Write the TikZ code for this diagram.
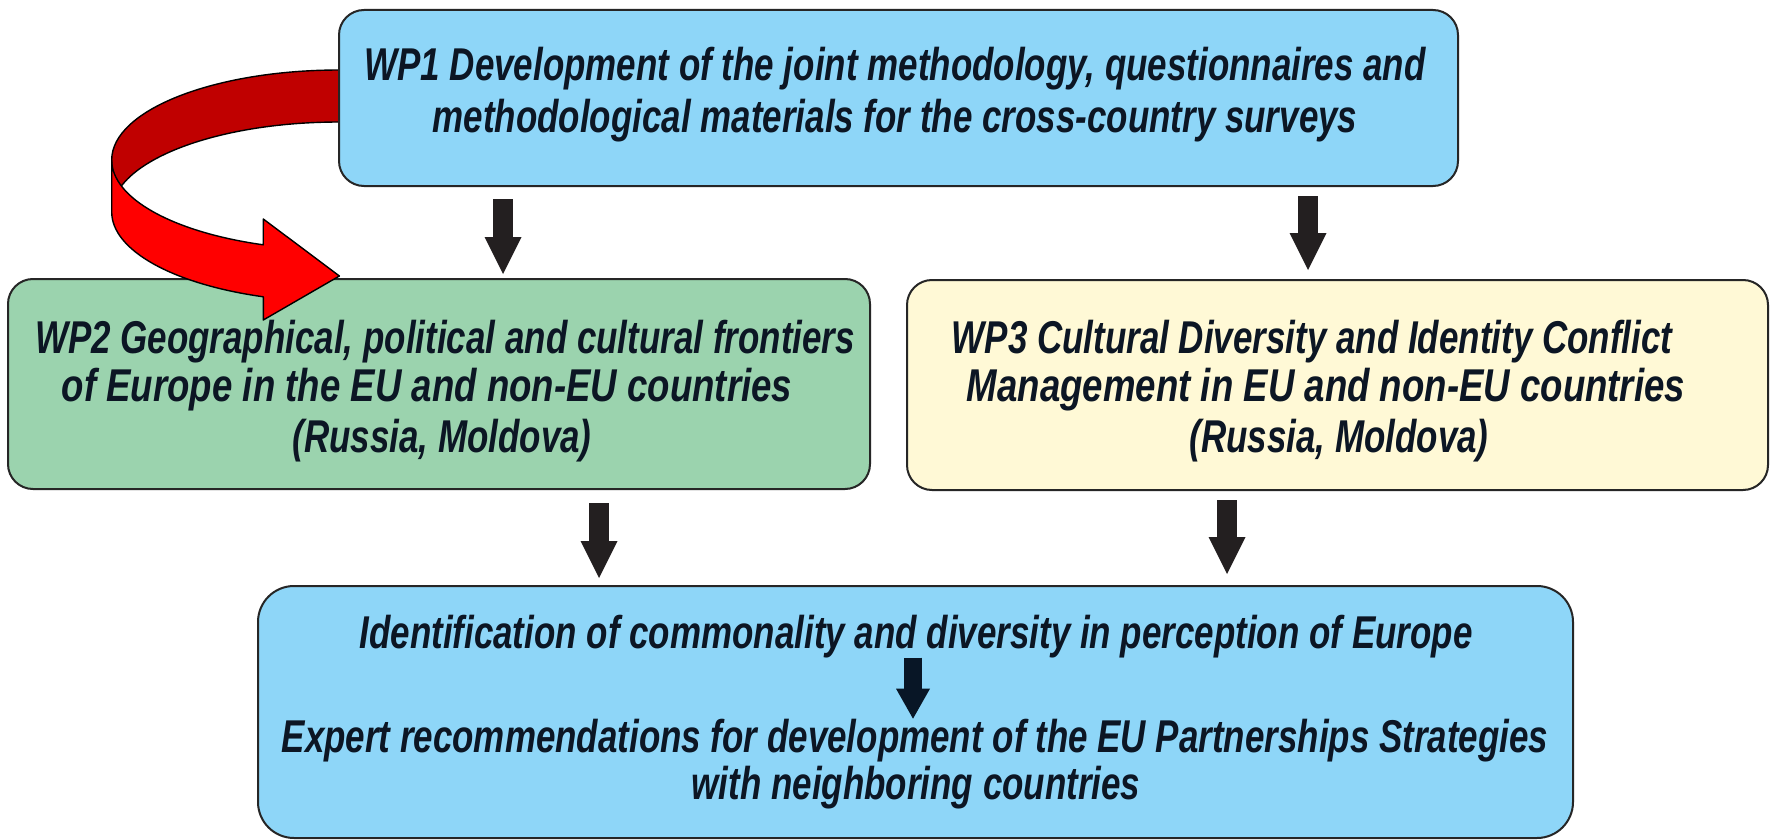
\documentclass[tikz,border=0pt]{standalone}
\usepackage{fontspec}
\setmainfont{Liberation Sans}[FakeStretch=0.76]
\newfontfamily\widerfont{Liberation Sans}[FakeStretch=0.796]
\usetikzlibrary{arrows.meta}
\definecolor{boxblue}{RGB}{142,214,248}
\definecolor{boxgreen}{RGB}{155,211,174}
\definecolor{boxyellow}{RGB}{255,249,214}
\definecolor{inkdark}{RGB}{12,22,36}
\definecolor{arrowdark}{RGB}{35,31,32}
\definecolor{arrownavy}{RGB}{8,22,38}
\definecolor{redback}{RGB}{192,0,0}
\definecolor{redfront}{RGB}{255,0,0}

\begin{document}
\begin{tikzpicture}[x=0.5pt,y=-0.5pt,
  box/.style={draw=black!85, line width=1pt, rounded corners=12.5pt,
    inner sep=0pt, outer sep=0pt},
  txt/.style={anchor=base, inner sep=0pt, outer sep=0pt, text=inkdark,
    font=\fontsize{23}{25}\selectfont\bfseries\itshape},
  widetxt/.style={txt, font=\widerfont\fontsize{23}{25}\selectfont\bfseries\itshape},
  blockarrow/.style={draw=arrowdark, line width=10pt,
    -{Triangle[width=18.5pt,length=18.5pt,line width=0pt]}},
  ribbon/.style={draw=black, line width=0.7pt, line join=round},
]
\useasboundingbox (0,0) rectangle (1772,840);
\fill[white] (0,0) rectangle (1772,840);

% lower boxes
\node[box, fill=boxgreen, minimum width=431pt, minimum height=105pt] (wp2) at (439,384) {};
\node[box, fill=boxyellow, minimum width=430.5pt, minimum height=105pt] (wp3) at (1337.5,385) {};
\node[box, fill=boxblue, rounded corners=18pt, minimum width=657.5pt, minimum height=126pt] (res) at (915.5,712) {};

\node[txt] (wp2a) at (445,353) {WP2 Geographical, political and cultural frontiers};
\node[widetxt] (wp2b) at (427,401) {of Europe in the EU and non-EU countries};
\node[txt] (wp2c) at (442,452) {(Russia, Moldova)};

\node[txt] (wp3a) at (1312,353) {WP3 Cultural Diversity and Identity Conflict};
\node[widetxt] (wp3b) at (1326,401) {Management in EU and non-EU countries};
\node[txt] (wp3c) at (1339,452) {(Russia, Moldova)};

\node[txt] (resa) at (916,648) {Identification of commonality and diversity in perception of Europe};
\node[txt] (resb) at (915,752) {Expert recommendations for development of the EU Partnerships Strategies};
\node[txt] (resc) at (916,799) {with neighboring countries};

% curved ribbon arrow from WP1 to WP2 (back face, then front face with head)
\filldraw[ribbon, fill=redback] (339.4,70)
  arc[start angle=270, end angle=180, x radius=227.7, y radius=90]
  -- (111.7,212)
  arc[start angle=180, end angle=270, x radius=227.7, y radius=90] -- cycle;
\filldraw[ribbon, fill=redfront] (111.7,160)
  arc[start angle=180, end angle=109.53, x radius=227.7, y radius=90]
  -- (263.3,219) -- (339.4,276) -- (263.3,320) -- (263.3,296.8)
  arc[start angle=109.53, end angle=180, x radius=227.7, y radius=90] -- cycle;

% top box
\node[box, fill=boxblue, minimum width=559.5pt, minimum height=88pt] (wp1) at (898.5,98) {};
\node[txt] (wp1a) at (895,81) {WP1 Development of the joint methodology, questionnaires and};
\node[txt] (wp1b) at (895,133) {methodological materials for the cross-country surveys};

% block arrows
\coordinate (x1) at (503,0);
\coordinate (x2) at (1308,0);
\coordinate (x3) at (599,0);
\coordinate (x4) at (1227,0);
\coordinate (x5) at (913,0);
\draw[blockarrow, shorten <=6.5pt, shorten >=2.5pt] (wp1.south -| x1) -- (wp2.north -| x1);
\draw[blockarrow, shorten <=5pt, shorten >=5pt] (wp1.south -| x2) -- (wp3.north -| x2);
\draw[blockarrow, shorten <=7pt, shorten >=4pt] (wp2.south -| x3) -- (res.north -| x3);
\draw[blockarrow, shorten <=5pt, shorten >=6pt] (wp3.south -| x4) -- (res.north -| x4);
\draw[draw=arrownavy, line width=9pt,
  -{Triangle[width=17pt,length=15pt,line width=0pt]}]
  (resa.south -| x5) -- (resb.north -| x5);
\end{tikzpicture}
\end{document}
